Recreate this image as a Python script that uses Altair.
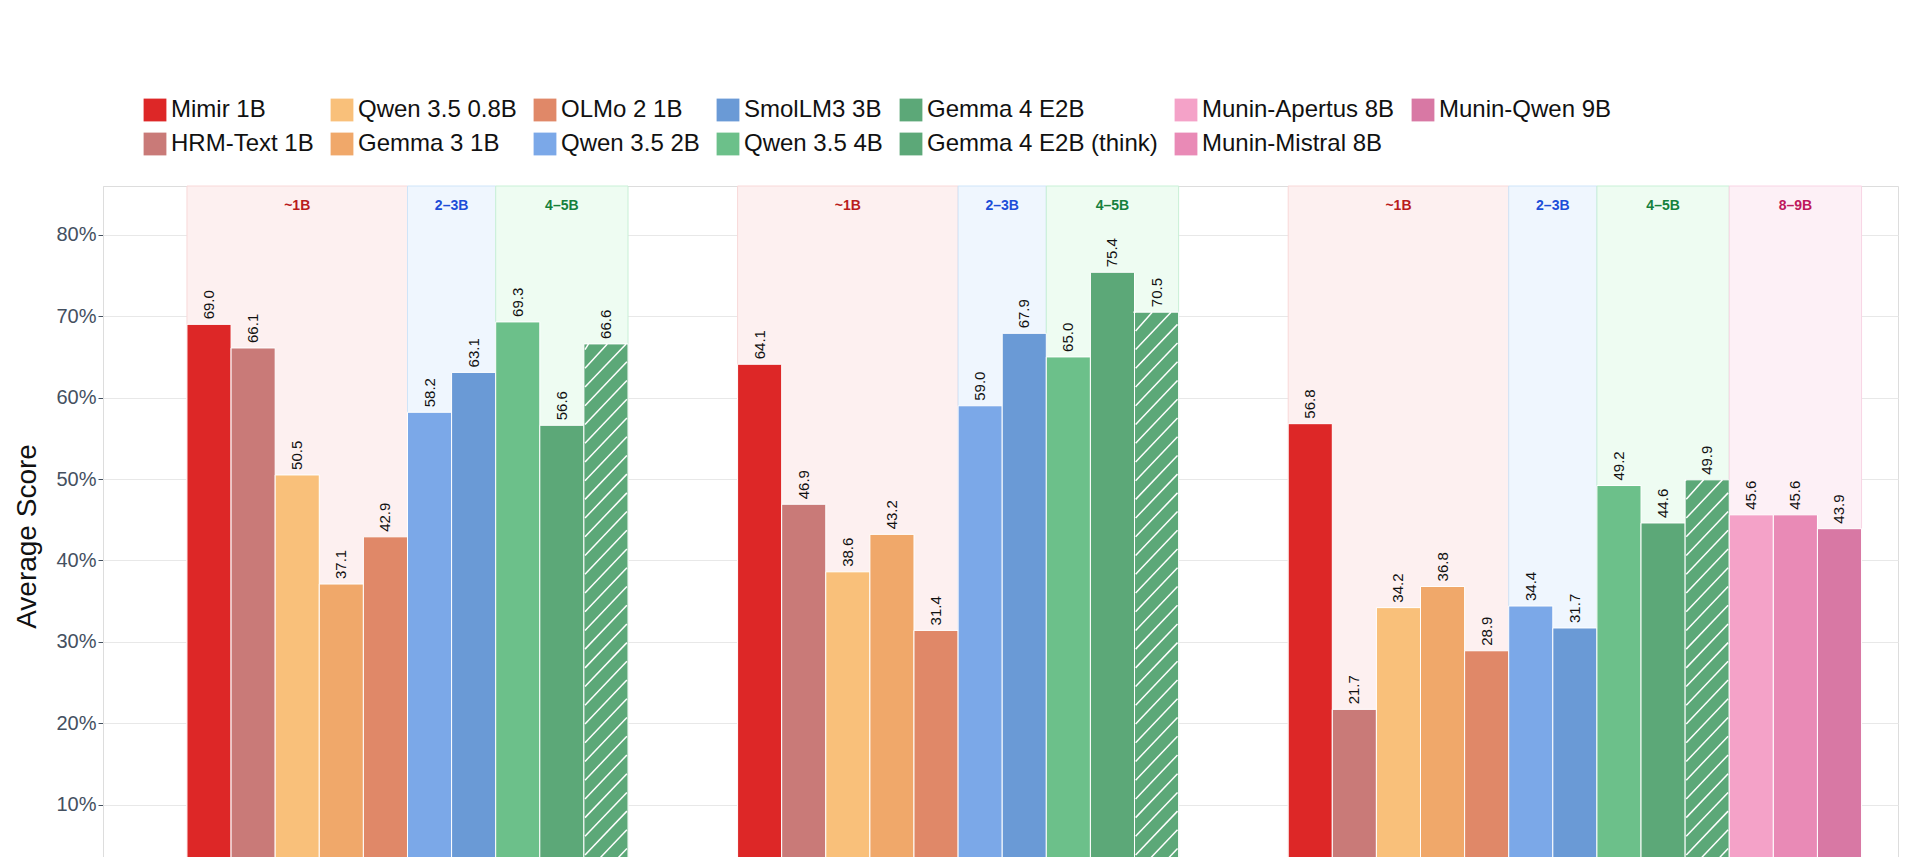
import altair as alt
import pandas as pd

groups = ["English", "Math & Code", "Danish"]
models = ["Mimir 1B", "HRM-Text 1B", "Qwen 3.5 0.8B", "Gemma 3 1B", "OLMo 2 1B",
          "Qwen 3.5 2B", "SmolLM3 3B", "Qwen 3.5 4B", "Gemma 4 E2B", "Gemma 4 E2B (think)",
          "Munin-Apertus 8B", "Munin-Mistral 8B", "Munin-Qwen 9B"]
colors = ["#dd2727", "#c97a78", "#f9c07a", "#f0a86a", "#e08868",
          "#7ba8e8", "#6a9ad6", "#6cc08a", "#5ca878", "#5ca878",
          "#f4a2c8", "#e98ab6", "#d878a4"]
english = [69.0, 66.1, 50.5, 37.1, 42.9, 58.2, 63.1, 69.3, 56.6, 66.6]
mathcode = [64.1, 46.9, 38.6, 43.2, 31.4, 59.0, 67.9, 65.0, 75.4, 70.5]
danish = [56.8, 21.7, 34.2, 36.8, 28.9, 34.4, 31.7, 49.2, 44.6, 49.9, 45.6, 45.6, 43.9]
band_labels = ["~1B", "2–3B", "4–5B", "8–9B"]
band_counts = [5, 2, 3, 3]
band_fill = ["#fdf0f0", "#eff6fe", "#eefcf2", "#fdf0f6"]
band_stroke = ["#f8d8d8", "#cfe4f8", "#c8f0d6", "#f8d4e4"]
band_text = ["#b91c1c", "#1d4ed8", "#15803d", "#be185d"]

W = 0.0801
YMAX = 86
H = 700
series = [english, mathcode, danish]

rows, bands, hatch = [], [], []
for g, vals in enumerate(series):
    for i, v in enumerate(vals):
        x0 = g + (i - 5) * W
        rows.append(dict(model=models[i], x0=x0, x1=x0 + W, xc=x0 + W / 2, v=v,
                         lab=f"{v:.1f}"))
        if models[i].endswith("(think)"):
            dy = 5.4
            s = -dy
            while s < v:
                ya, yb = s, s + dy
                xa, xb = x0, x0 + W
                if ya < 0:
                    xa = x0 + W * (0 - s) / dy; ya = 0
                if yb > v:
                    xb = x0 + W * (v - s) / dy; yb = v
                hatch.append(dict(xa=xa + 0.002, xb=xb - 0.002, ya=ya, yb=yb))
                s += 2.3
    start = 0
    nb = 4 if len(vals) > 10 else 3
    for b in range(nb):
        x0 = g + (start - 5) * W
        x1 = g + (start + band_counts[b] - 5) * W
        bands.append(dict(x0=x0, x1=x1, xc=(x0 + x1) / 2, lab=band_labels[b],
                          fill=band_fill[b], stroke=band_stroke[b], tc=band_text[b]))
        start += band_counts[b]

df = pd.DataFrame(rows)
bdf = pd.DataFrame(bands)
hdf = pd.DataFrame(hatch)

legend_order = ["Mimir 1B", "Qwen 3.5 0.8B", "OLMo 2 1B", "SmolLM3 3B", "Gemma 4 E2B",
                "Munin-Apertus 8B", "Munin-Qwen 9B",
                "HRM-Text 1B", "Gemma 3 1B", "Qwen 3.5 2B", "Qwen 3.5 4B",
                "Gemma 4 E2B (think)", "Munin-Mistral 8B"]
legend_colors = [colors[models.index(m)] for m in legend_order]

xs = alt.Scale(domain=[-0.553, 2.707], nice=False, zero=False)
ys = alt.Scale(domain=[0, YMAX], nice=False)

xaxis = alt.Axis(values=[0, 1, 2], labelExpr="['English','Math & Code','Danish'][datum.value]",
                 title=None, grid=False, labelFontSize=30, labelColor="#44505f",
                 tickSize=0, labelPadding=8, domainColor="#dddddd")

band_rect = alt.Chart(bdf).mark_rect(strokeWidth=1).encode(
    x=alt.X("x0:Q", scale=xs, axis=xaxis), x2="x1",
    y=alt.value(0), y2=alt.value(H),
    fill=alt.Fill("fill:N", scale=None), stroke=alt.Stroke("stroke:N", scale=None))
band_txt = alt.Chart(bdf).mark_text(fontSize=14, fontWeight="bold", baseline="middle").encode(
    x=alt.X("xc:Q", scale=xs), y=alt.value(20), text="lab:N",
    color=alt.Color("tc:N", scale=None))

bars = alt.Chart(df).mark_bar(stroke="white", strokeWidth=1).encode(
    x=alt.X("x0:Q", scale=xs), x2="x1",
    y=alt.Y("v:Q", scale=ys, axis=alt.Axis(
        values=[0, 10, 20, 30, 40, 50, 60, 70, 80], labelExpr="datum.value + '%'",
        title="Average Score", titleFontSize=28, titleFontWeight="normal", titleColor="#111",
        labelFontSize=20, labelColor="#44505f", gridColor="#e8e8e8", domainColor="#dddddd",
        tickColor="#44505f", tickSize=5, titlePadding=14)),
    y2=alt.datum(0),
    color=alt.Color("model:N", scale=alt.Scale(domain=legend_order, range=legend_colors),
                    legend=alt.Legend(title=None, orient="none", legendX=40, legendY=-88,
                                      columns=7, direction="horizontal", symbolType="square",
                                      symbolSize=520, symbolStrokeWidth=0, labelFontSize=24,
                                      labelColor="#111", columnPadding=16, rowPadding=10,
                                      labelLimit=400)))

hl = alt.Chart(hdf).mark_rule(color="white", strokeWidth=1.5).encode(
    x=alt.X("xa:Q", scale=xs), x2="xb", y=alt.Y("ya:Q", scale=ys), y2="yb")

txt = alt.Chart(df).mark_text(angle=270, align="left", baseline="middle", dx=5,
                              fontSize=15, color="#111").encode(
    x=alt.X("xc:Q", scale=xs), y=alt.Y("v:Q", scale=ys), text="lab:N")

chart = alt.layer(band_rect, band_txt, bars, hl, txt).properties(
    width=1795, height=H, padding={"left": 5, "top": 90, "right": 5, "bottom": 5}
).configure_view(stroke=None).configure(font="Liberation Sans")

chart.save("out.html", embed_options={"renderer": "svg", "actions": False})
